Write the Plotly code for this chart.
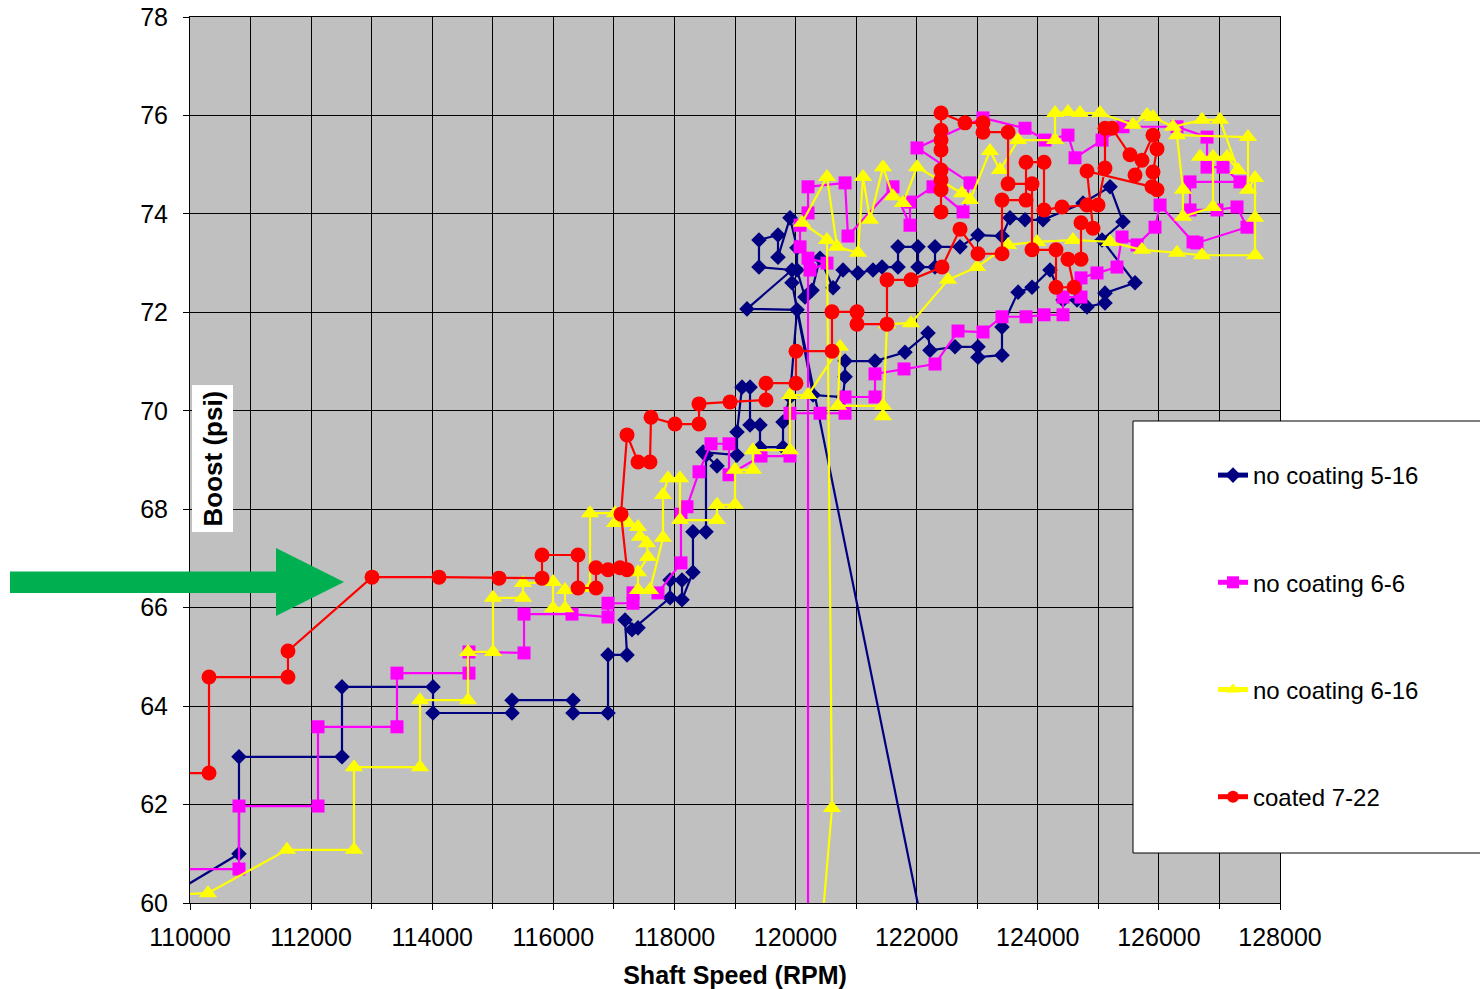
import plotly.graph_objects as go

# ---------------- data (Shaft Speed RPM, Boost psi) ----------------
blue_rpm = [109670, 110809, 110809, 112510, 112510, 114013, 114013, 115318, 115318, 116325,
            116325, 116903, 116903, 117217, 117184, 117398, 117299, 117927, 117927, 118125,
            118125, 118306, 118306, 118521, 118521, 118703, 118472, 119033, 119033, 119116,
            119248, 119248, 119413, 119413, 119793, 119793, 119908, 120024, 119198, 119941,
            119396, 119396, 119710, 119710, 119908, 120024, 120024, 120156, 120272, 120404,
            120619, 120784, 121031, 121279, 121428, 121692, 121692, 122022, 122022, 122303,
            122303, 122716, 123013, 123409, 123541, 123789, 124086, 124747, 125193, 125407,
            125061, 125606, 125110, 125110, 124813, 124648, 124417, 124202, 123905, 123674,
            123409, 123409, 123013, 123013, 122633, 122220, 122187, 121807, 121312, 120817,
            120817, 120784, 120288, 119941, 122840]
blue_psi = [60.16, 61.00, 62.97, 62.97, 64.39, 64.39, 63.86, 63.86, 64.12, 64.12,
            63.86, 63.86, 65.04, 65.04, 65.75, 65.59, 65.55, 66.20, 66.56, 66.56,
            66.16, 66.72, 67.54, 67.54, 69.10, 68.88, 69.16, 69.10, 69.57, 70.48,
            70.48, 69.71, 69.71, 69.26, 69.26, 69.77, 70.28, 72.05, 72.07, 72.86,
            72.92, 73.47, 73.57, 73.12, 73.92, 73.31, 72.86, 72.31, 72.45, 73.10,
            72.50, 72.86, 72.80, 72.86, 72.92, 72.92, 73.33, 73.33, 72.92, 72.92,
            73.33, 73.33, 73.57, 73.55, 73.92, 73.88, 73.88, 74.22, 74.55, 73.84,
            73.47, 72.60, 72.39, 72.19, 72.11, 72.25, 72.25, 72.86, 72.51, 72.41,
            71.70, 71.13, 71.09, 71.30, 71.30, 71.23, 71.58, 71.19, 71.01, 71.01,
            70.69, 70.28, 70.32, 72.60, 55.0]

pink_rpm = [109800, 110809, 110809, 112114, 112114, 113418, 113418, 114607, 114607, 115516,
            115516, 116308, 116903, 116903, 117316, 117316, 117728, 118108, 118108, 118207,
            118406, 118604, 118901, 118901, 119429, 119908, 119908, 120404, 120817, 120817,
            121312, 121312, 121791, 122303, 122683, 123095, 123409, 123806, 124103, 124417,
            124417, 124714, 124714, 124978, 125308, 125391, 125639, 125936, 126019, 126564,
            126630, 127455, 127290, 126960, 126514, 126514, 127340, 127059, 126795, 126795,
            126299, 125407, 125061, 124615, 124499, 124119, 123789, 123095, 122006, 122881,
            122766, 122270, 121890, 121890, 121609, 120866, 120817, 120206, 120206, 120074,
            120074, 120239, 120519, 120206, 120206]
pink_psi = [60.69, 60.69, 61.97, 61.97, 63.58, 63.58, 64.67, 64.67, 65.10, 65.08,
            65.87, 65.87, 65.81, 66.09, 66.09, 66.30, 66.30, 66.91, 67.90, 68.05,
            68.76, 69.33, 69.33, 68.70, 69.08, 69.08, 69.95, 69.95, 69.95, 70.28,
            70.28, 70.75, 70.85, 70.95, 71.62, 71.60, 71.91, 71.91, 71.95, 71.95,
            72.31, 72.31, 72.70, 72.80, 72.92, 73.53, 73.37, 73.73, 74.18, 73.43,
            73.41, 73.73, 74.14, 74.08, 74.08, 74.65, 74.65, 74.95, 74.95, 75.56,
            75.77, 75.77, 75.50, 75.14, 75.60, 75.50, 75.74, 75.95, 75.34, 74.63,
            74.04, 74.55, 74.24, 73.77, 74.55, 73.55, 74.63, 74.55, 74.02, 73.77,
            73.33, 72.86, 73.00, 73.10, 55.0]

yellow_rpm = [109400, 110297, 111602, 112708, 112708, 113798, 113798, 114591, 114591, 115004,
              115004, 115499, 115499, 115995, 115995, 116193, 116193, 116606, 116606, 117018,
              117018, 117234, 117398, 117431, 117547, 117563, 117398, 117398, 117596, 117811,
              117811, 117894, 118092, 118092, 118703, 118703, 119000, 119000, 119297, 119297,
              119908, 119908, 120206, 120734, 120701, 121444, 121444, 121510, 121907, 122518,
              122997, 123509, 123987, 124582, 125193, 125721, 126299, 126712, 127588, 127588,
              127588, 127472, 127472, 126299, 126398, 126398, 126894, 126894, 126679, 127125,
              127306, 127009, 126712, 126233, 125903, 125804, 125572, 125028, 124697, 124499,
              124285, 124285, 123674, 123376, 123211, 122881, 122749, 122006, 121774, 121609,
              121444, 121230, 121114, 121031, 120685, 120519, 120107, 120519, 120602, 120120]
yellow_psi = [60.15, 60.20, 61.08, 61.08, 62.76, 62.76, 64.12, 64.12, 65.10, 65.10,
              66.20, 66.20, 66.50, 66.52, 65.99, 65.99, 66.36, 66.40, 67.92, 67.92,
              67.72, 67.72, 67.64, 67.44, 67.31, 67.03, 66.72, 66.36, 66.36, 67.42,
              68.29, 68.63, 68.63, 67.78, 67.78, 68.09, 68.09, 68.80, 68.80, 69.20,
              69.20, 70.32, 70.32, 71.30, 70.10, 70.10, 69.89, 71.76, 71.78, 72.66,
              72.92, 73.37, 73.43, 73.47, 73.43, 73.27, 73.21, 73.16, 73.16, 73.92,
              74.73, 74.49, 75.56, 75.60, 74.49, 73.94, 74.14, 75.16, 75.16, 75.16,
              74.89, 75.91, 75.91, 75.77, 75.97, 76.01, 75.81, 76.05, 76.05, 76.07,
              76.05, 75.50, 75.50, 74.89, 75.28, 74.28, 74.42, 74.95, 74.22, 74.36,
              74.95, 73.88, 74.75, 73.21, 73.33, 74.75, 73.82, 73.47, 61.93, 55.0]

red_rpm = [109835, 110314, 110314, 111618, 111618, 113006, 114112, 115103, 115813, 115813,
           116407, 116407, 116705, 116705, 116903, 117101, 117217, 117118, 117217, 117398,
           117596, 117613, 118009, 118406, 118406, 118918, 119512, 119512, 120007, 120007,
           120602, 120602, 121015, 121015, 121510, 121510, 121907, 122419, 122716, 123013,
           123409, 123409, 123806, 123806, 124103, 124103, 124400, 124813, 124995, 125110,
           125110, 125226, 125523, 125721, 125606, 125903, 125969, 125903, 125969, 125886,
           124813, 124912, 124714, 124714, 124499, 124598, 124301, 124301, 123905, 123905,
           123509, 123509, 123095, 123095, 122798, 122402, 122402, 122402, 122402, 122402,
           122402, 122402, 122402]
red_psi = [62.64, 62.64, 64.59, 64.59, 65.12, 66.62, 66.62, 66.60, 66.60, 67.07,
           67.07, 66.40, 66.40, 66.81, 66.77, 66.81, 66.77, 67.90, 69.51, 68.96,
           68.96, 69.87, 69.73, 69.73, 70.14, 70.18, 70.22, 70.56, 70.56, 71.21,
           71.21, 72.01, 72.01, 71.76, 71.76, 72.66, 72.66, 72.92, 73.69, 73.19,
           73.19, 74.28, 74.28, 75.05, 75.05, 74.08, 74.14, 74.18, 74.18, 74.93,
           75.74, 75.74, 75.20, 75.09, 74.79, 75.60, 75.32, 74.85, 74.49, 74.55,
           74.87, 73.71, 73.82, 73.08, 73.08, 72.51, 72.51, 73.27, 73.27, 74.61,
           74.61, 75.66, 75.66, 75.85, 75.85, 76.05, 75.70, 75.30, 74.89, 74.49,
           74.04, 74.69, 75.50]

series_names = ["no coating 5-16", "no coating 6-6", "no coating 6-16", "coated 7-22"]
x_ticks = [110000, 112000, 114000, 116000, 118000, 120000, 122000, 124000, 126000, 128000]
y_ticks = [60, 62, 64, 66, 68, 70, 72, 74, 76, 78]

FONT = "Arial, 'Liberation Sans', sans-serif"

fig = go.Figure()
styles = [
    (blue_rpm, blue_psi, "#000080", "diamond", 12),
    (pink_rpm, pink_psi, "#FF00FF", "square", 13),
    (yellow_rpm, yellow_psi, "#FFFF00", "triangle-up", 16),
    (red_rpm, red_psi, "#FF0000", "circle", 15),
]
for name, (xs, ys, col, sym, sz) in zip(series_names, styles):
    fig.add_trace(go.Scatter(
        x=xs, y=ys, name=name, mode="lines+markers", legendgroup=name,
        line=dict(color=col, width=2.2),
        marker=dict(color=col, symbol=sym, size=sz, line=dict(width=0)),
    ))

W, H = 1480, 989
OFF = 0  # page body margin removed by the post script below
# plot area in page pixels
L, R, T, B = 190, 1280, 17, 903


def px(xp):
    return (xp - L) / (R - L)


def py(yp):
    return (B - yp) / (B - T)


shapes = [
    # legend box
    dict(type="rect", xref="paper", yref="paper", x0=px(1133), x1=px(1500),
         y0=py(853), y1=py(421), fillcolor="white", line=dict(color="black", width=1),
         layer="above"),
    # green arrow
    dict(type="path", xref="paper", yref="paper",
         path=(f"M {px(10)},{py(571.5)} L {px(276)},{py(571.5)} L {px(276)},{py(548)} "
               f"L {px(344)},{py(582)} L {px(276)},{py(616)} L {px(276)},{py(593)} "
               f"L {px(10)},{py(593)} Z"),
         fillcolor="#00B050", line=dict(width=0), layer="above"),
]

fig.update_layout(
    width=W, height=H,
    margin=dict(l=L - OFF, r=W - (R - OFF), t=T - OFF, b=H - (B - OFF), autoexpand=False),
    paper_bgcolor="white", plot_bgcolor="#C0C0C0",
    font=dict(family=FONT, size=25, color="black"),
    showlegend=True,
    legend=dict(x=px(1213), y=py(453), xanchor="left", yanchor="top",
                bgcolor="rgba(0,0,0,0)", borderwidth=0,
                font=dict(family=FONT, size=24, color="black"),
                tracegroupgap=73, itemsizing="constant"),
    shapes=shapes,
    annotations=[dict(text="<b>Boost (psi)</b>", xref="paper", yref="paper",
                      x=px(212.5), y=py(459), xanchor="center", yanchor="middle",
                      textangle=-90, showarrow=False,
                      bgcolor="white", borderpad=5,
                      font=dict(family=FONT, size=26, color="black"))],
)
fig.update_xaxes(
    range=[110000, 128000], tickvals=x_ticks, ticktext=[str(v) for v in x_ticks],
    showgrid=True, gridcolor="black", gridwidth=1, automargin=False,
    minor=dict(dtick=1000, tick0=110000, showgrid=True, gridcolor="black", gridwidth=1,
               ticks="outside", ticklen=5, tickcolor="black"),
    ticks="outside", ticklen=6, tickcolor="black", ticklabelstandoff=6,
    showline=True, linecolor="black", linewidth=1, mirror=True, zeroline=False,
    ticklabeloverflow="allow",
    tickfont=dict(family=FONT, size=25),
    title=dict(text="<b>Shaft Speed (RPM)</b>", font=dict(family=FONT, size=25), standoff=16),
)
fig.update_yaxes(
    range=[60, 78], tickvals=y_ticks, ticktext=[str(v) for v in y_ticks],
    showgrid=True, gridcolor="black", gridwidth=1, automargin=False,
    ticks="outside", ticklen=6, tickcolor="black", ticklabelstandoff=10,
    showline=True, linecolor="black", linewidth=1, mirror=True, zeroline=False,
    ticklabeloverflow="allow",
    tickfont=dict(family=FONT, size=25),
)

fig.write_html("out.html", config={"displayModeBar": False},
               post_script="document.body.style.margin='0px';document.body.style.padding='0px';")
